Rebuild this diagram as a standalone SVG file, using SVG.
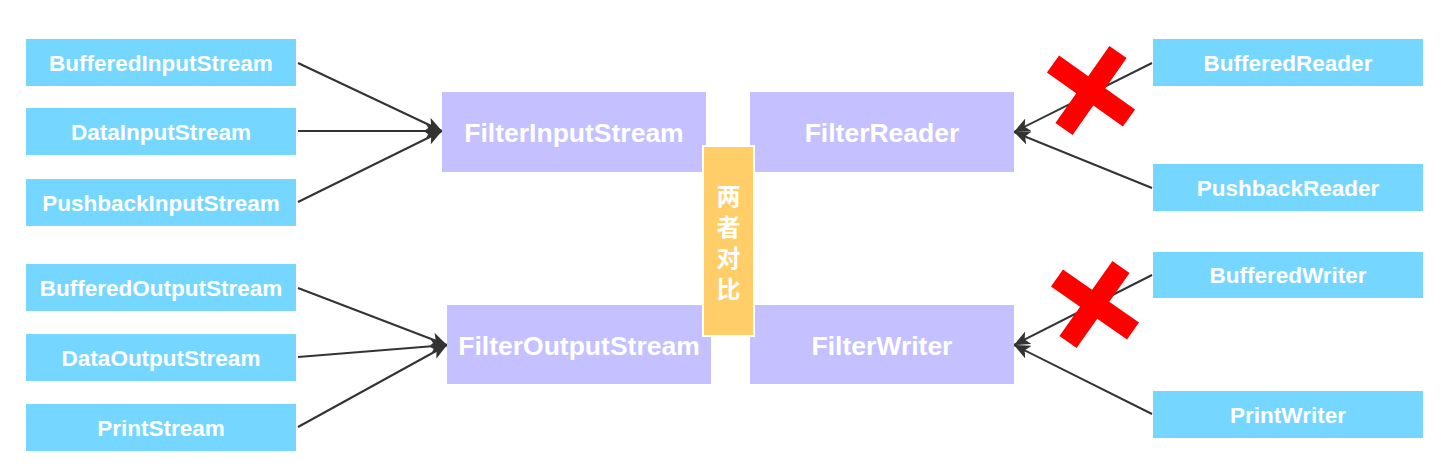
<svg xmlns="http://www.w3.org/2000/svg" width="1449" height="476" viewBox="0 0 1449 476">
<defs>
<marker id="arr" viewBox="0 0 16 14" refX="16" refY="7" markerWidth="16" markerHeight="14" markerUnits="userSpaceOnUse" orient="auto">
<path d="M0,0 L16,7 L0,14 L4,7 Z" fill="#333333"/>
</marker>
</defs>
<style>
.leaf{fill:#75D7FF}
.filter{fill:#C5C0FF}
.lt{font-family:"Liberation Sans",Arial,sans-serif;font-weight:bold;font-size:22.5px;fill:#ffffff;text-anchor:middle;dominant-baseline:central}
.ft{font-family:"Liberation Sans",Arial,sans-serif;font-weight:bold;font-size:26.5px;fill:#ffffff;text-anchor:middle;dominant-baseline:central}
.ct{font-family:"Noto Sans CJK SC",sans-serif;font-weight:bold;font-size:24px;fill:#ffffff;text-anchor:middle;writing-mode:vertical-rl;letter-spacing:7px}
.conn{stroke:#333333;stroke-width:2;fill:none;marker-end:url(#arr)}
.x{stroke:#FF0000;stroke-width:21;fill:none}
</style>
<rect width="1449" height="476" fill="#ffffff"/>
<g id="connectors">
<line class="conn" x1="298" y1="63" x2="442" y2="131"/>
<line class="conn" x1="298" y1="131" x2="442" y2="131"/>
<line class="conn" x1="298" y1="202" x2="442" y2="131"/>
<line class="conn" x1="298" y1="288" x2="447" y2="345"/>
<line class="conn" x1="298" y1="357" x2="447" y2="345"/>
<line class="conn" x1="298" y1="427" x2="447" y2="345"/>
<line class="conn" x1="1152" y1="63" x2="1014" y2="132"/>
<line class="conn" x1="1152" y1="188" x2="1014" y2="132"/>
<line class="conn" x1="1152" y1="275" x2="1014" y2="345"/>
<line class="conn" x1="1152" y1="414" x2="1014" y2="345"/>
</g>
<g id="BufferedInputStream"><rect class="leaf" x="26" y="39" width="270" height="47"/><text class="lt" x="161" y="63">BufferedInputStream</text></g>
<g id="DataInputStream"><rect class="leaf" x="26" y="108" width="270" height="47"/><text class="lt" x="161" y="132">DataInputStream</text></g>
<g id="PushbackInputStream"><rect class="leaf" x="26" y="179" width="270" height="47"/><text class="lt" x="161" y="203">PushbackInputStream</text></g>
<g id="BufferedOutputStream"><rect class="leaf" x="26" y="264" width="270" height="47"/><text class="lt" x="161" y="288">BufferedOutputStream</text></g>
<g id="DataOutputStream"><rect class="leaf" x="26" y="334" width="270" height="47"/><text class="lt" x="161" y="358">DataOutputStream</text></g>
<g id="PrintStream"><rect class="leaf" x="26" y="404" width="270" height="47"/><text class="lt" x="161" y="428">PrintStream</text></g>
<g id="FilterInputStream"><rect class="filter" x="442" y="92" width="264" height="80"/><text class="ft" x="574" y="133">FilterInputStream</text></g>
<g id="FilterOutputStream"><rect class="filter" x="447" y="305" width="264" height="79"/><text class="ft" x="579" y="346">FilterOutputStream</text></g>
<g id="FilterReader"><rect class="filter" x="750" y="92" width="264" height="80"/><text class="ft" x="882" y="133">FilterReader</text></g>
<g id="FilterWriter"><rect class="filter" x="750" y="305" width="264" height="79"/><text class="ft" x="882" y="346">FilterWriter</text></g>
<g id="compare"><rect x="703" y="146" width="51" height="190" fill="#FFCE69" stroke="#ffffff" stroke-width="2"/>
<text class="ct" x="728.5" y="246">两者对比</text></g>
<g id="BufferedReader"><rect class="leaf" x="1153" y="39" width="270" height="47"/><text class="lt" x="1288" y="63">BufferedReader</text></g>
<g id="PushbackReader"><rect class="leaf" x="1153" y="164" width="270" height="47"/><text class="lt" x="1288" y="188">PushbackReader</text></g>
<g id="BufferedWriter"><rect class="leaf" x="1153" y="252" width="270" height="46"/><text class="lt" x="1288" y="275">BufferedWriter</text></g>
<g id="PrintWriter"><rect class="leaf" x="1153" y="391" width="270" height="47"/><text class="lt" x="1288" y="415">PrintWriter</text></g>
<g id="cross1"><line class="x" x1="1053" y1="64" x2="1129" y2="118"/><line class="x" x1="1118" y1="52" x2="1064" y2="129"/></g>
<g id="cross2"><line class="x" x1="1057" y1="278" x2="1133" y2="331"/><line class="x" x1="1121" y1="267" x2="1068" y2="342"/></g>
</svg>
